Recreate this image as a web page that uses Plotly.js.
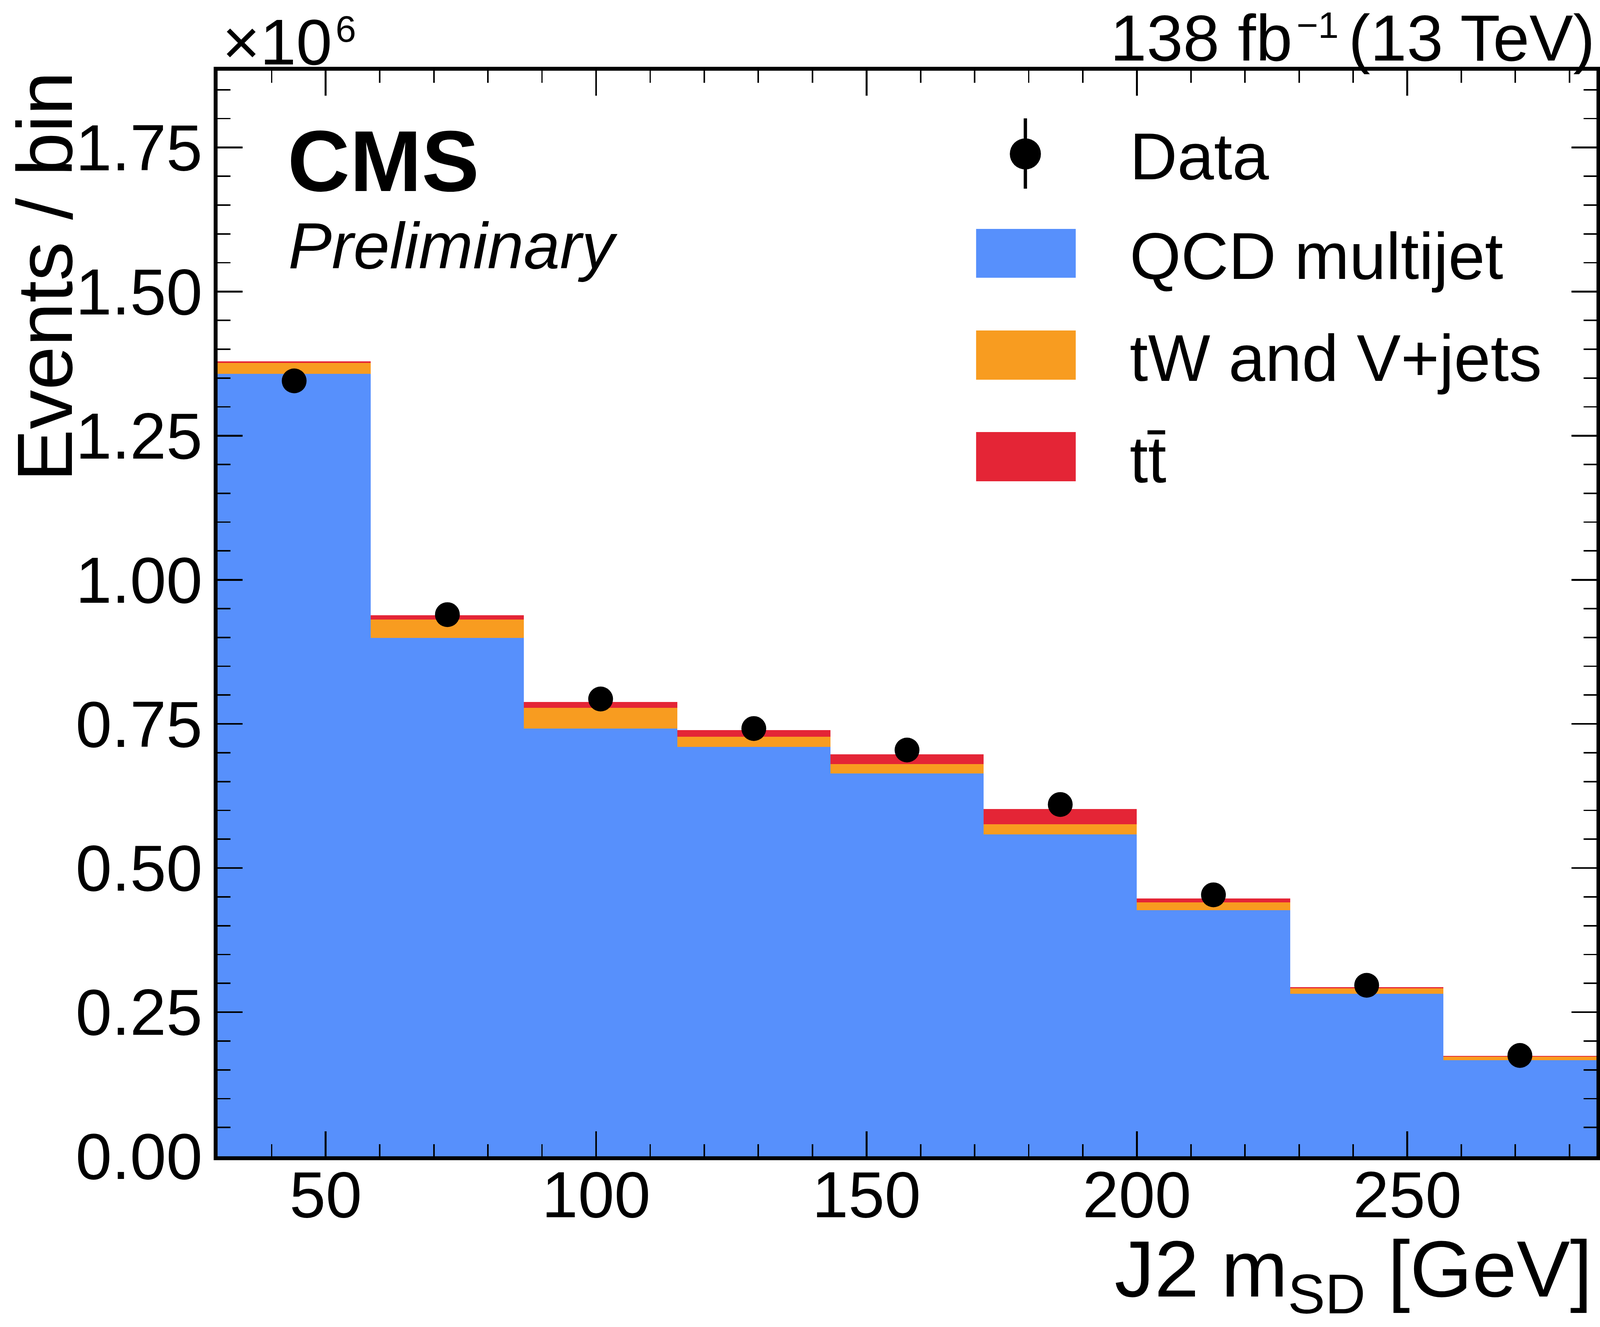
<!DOCTYPE html>
<html>
<head>
<meta charset="utf-8">
<script src="https://cdn.plot.ly/plotly-3.0.1.min.js"></script>
<style>html,body{margin:0;padding:0;background:#fff;overflow:hidden;}</style>
</head>
<body>
<div id="plot"></div>
<script>
// ---- data (values in units of 10^6 events per bin) ----
const binEdges = [30, 58.33, 86.67, 115, 143.33, 171.67, 200, 228.33, 256.67, 285];
const qcdMultijet = [1.357, 0.899, 0.742, 0.710, 0.664, 0.5585, 0.427, 0.282, 0.1668];
const tWVjets     = [0.0195, 0.032, 0.036, 0.0175, 0.016, 0.0174, 0.0136, 0.0094, 0.0061];
const ttbar       = [0.0027, 0.0072, 0.0100, 0.0119, 0.0171, 0.0265, 0.0066, 0.0021, 0.0012];
const dataCounts  = [1.345, 0.9395, 0.7932, 0.7420, 0.7047, 0.6102, 0.4535, 0.2966, 0.1749];
const xTickVals = [50, 100, 150, 200, 250];
const yTickVals = [0, 0.25, 0.5, 0.75, 1.0, 1.25, 1.5, 1.75];
const legendLabels = ['Data', 'QCD multijet', 'tW and V+jets', 'tt\u0304'];

const colors = {qcd: '#5790fc', tw: '#f89c20', tt: '#e42536'};
const FONT = 'Liberation Sans, Arial, Helvetica, sans-serif';

const centers = binEdges.slice(0, -1).map((e, i) => (e + binEdges[i + 1]) / 2);
const widths = binEdges.slice(0, -1).map((e, i) => binEdges[i + 1] - e);

// ---- page geometry: designed in 4321x3397 reference pixels, mapped onto the real viewport ----
const W0 = 4321, H0 = 3397;
const W = window.innerWidth || W0, H = window.innerHeight || H0;
const sx = W / W0, sy = H / H0;
const div = document.getElementById('plot');
div.style.width = W + 'px'; div.style.height = H + 'px';

const L = 588, R = 4311, T = 181, B = 2960;   // plot frame in reference pixels
const PX = p => (p - L) / (R - L);
const PY = p => (B - p) / (B - T);
const F = v => v * sx;                        // font / size scale

const traces = [
  {type: 'bar', x: centers, y: qcdMultijet, width: widths, marker: {color: colors.qcd, line: {width: 0}}, name: 'QCD multijet'},
  {type: 'bar', x: centers, y: tWVjets, width: widths, marker: {color: colors.tw, line: {width: 0}}, name: 'tW and V+jets'},
  {type: 'bar', x: centers, y: ttbar, width: widths, marker: {color: colors.tt, line: {width: 0}}, name: 'tt'},
  {type: 'scatter', mode: 'markers', x: centers, y: dataCounts, marker: {color: '#000', size: F(67)}, name: 'Data'}
];

function ann(text, xpx, basePx, fs, xanchor, extra) {
  return Object.assign({
    text: text, xref: 'paper', yref: 'paper', x: PX(xpx), y: PY(basePx + 0.212 * fs * sx / sy),
    xanchor: xanchor, yanchor: 'bottom', showarrow: false, borderpad: 0,
    font: {family: FONT, size: F(fs), color: '#000'}
  }, extra || {});
}

const annotations = [
  ann('<b>CMS</b>', 776, 490, 233, 'left'),
  ann('<i>Preliminary</i>', 778, 688, 176, 'left'),
  ann('\u00d710', 600, 166, 175, 'left'),
  ann('6', 905, 108, 100, 'left'),
  ann('138 fb', 3490, 156, 177, 'right'),
  ann('\u22121', 3500, 98, 100, 'left'),
  ann('(13 TeV)', 4308, 156, 177, 'right'),
  ann('J2 m<sub>SD</sub> [GeV]', 4300, 3350, 216, 'right'),
  {text: 'Events / bin', xref: 'paper', yref: 'paper', x: PX(2), y: PY(182),
   xanchor: 'left', yanchor: 'top', textangle: -90, showarrow: false, borderpad: 0,
   font: {family: FONT, size: F(212), color: '#000'}},
  ann(legendLabels[0], 3050, 460, 178, 'left'),
  ann(legendLabels[1], 3050, 715, 178, 'left'),
  ann(legendLabels[2], 3050, 976, 178, 'left'),
  ann(legendLabels[3], 3050, 1236, 178, 'left')
];

const boxX0 = 2636, boxX1 = 2905;
const rMark = F(42);
const shapes = [
  {type: 'line', xref: 'paper', yref: 'paper', x0: PX(2769), x1: PX(2769), y0: PY(303), y1: PY(483), line: {color: '#000', width: F(9)}},
  {type: 'circle', xref: 'paper', yref: 'paper', xsizemode: 'pixel', ysizemode: 'pixel',
   xanchor: PX(2769), yanchor: PY(394), x0: -rMark, x1: rMark, y0: -rMark, y1: rMark, fillcolor: '#000', line: {width: 0}},
  {type: 'rect', xref: 'paper', yref: 'paper', x0: PX(boxX0), x1: PX(boxX1), y0: PY(711), y1: PY(586), fillcolor: colors.qcd, line: {width: 0}},
  {type: 'rect', xref: 'paper', yref: 'paper', x0: PX(boxX0), x1: PX(boxX1), y0: PY(972), y1: PY(846), fillcolor: colors.tw, line: {width: 0}},
  {type: 'rect', xref: 'paper', yref: 'paper', x0: PX(boxX0), x1: PX(boxX1), y0: PY(1232), y1: PY(1106), fillcolor: colors.tt, line: {width: 0}}
];

const axisCommon = {
  showline: true, linecolor: '#000', linewidth: F(11), mirror: 'allticks',
  ticks: 'inside', tickcolor: '#000', tickwidth: F(5),
  showgrid: false, zeroline: false, layer: 'above traces',
  tickfont: {family: FONT, size: F(176), color: '#000'}
};

const layout = {
  width: W, height: H,
  margin: {l: L * sx, r: (W0 - R) * sx, t: T * sy, b: (H0 - B) * sy, pad: 0},
  paper_bgcolor: '#fff', plot_bgcolor: '#fff',
  barmode: 'stack', bargap: 0, showlegend: false,
  font: {family: FONT, color: '#000'},
  xaxis: Object.assign({}, axisCommon, {
    range: [30, 285], tickmode: 'array', tickvals: xTickVals, ticklen: 64 * sy,
    ticklabelstandoff: Math.round(-55 * sy),
    minor: {ticks: 'inside', ticklen: 31 * sy, tickwidth: F(4), tickcolor: '#000', dtick: 10, tick0: 0, showgrid: false}
  }),
  yaxis: Object.assign({}, axisCommon, {
    range: [0, 1.883], tickmode: 'array', tickvals: yTickVals, tickformat: '.2f', ticklen: 68 * sx,
    ticklabelstandoff: Math.round(-5 * sx),
    minor: {ticks: 'inside', ticklen: 35 * sx, tickwidth: F(4), tickcolor: '#000', dtick: 0.05, tick0: 0, showgrid: false}
  }),
  annotations: annotations,
  shapes: shapes
};

Plotly.newPlot('plot', traces, layout, {staticPlot: true, displayModeBar: false});
</script>
</body>
</html>
